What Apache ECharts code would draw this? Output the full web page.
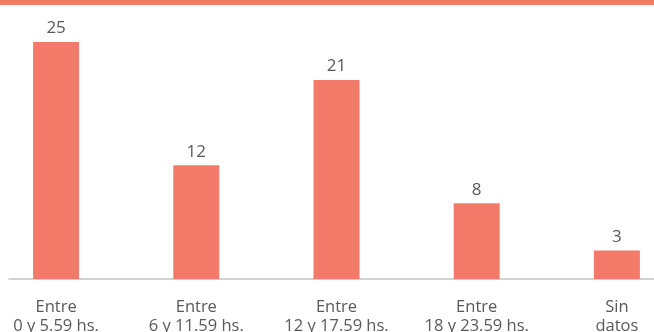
<!DOCTYPE html>
<html>
<head>
<meta charset="utf-8">
<script src="https://cdn.jsdelivr.net/npm/echarts@6/dist/echarts.min.js"></script>
<style>
  html, body { margin: 0; padding: 0; background: #fff; }
  #chart { width: 654px; height: 332px; }
</style>
</head>
<body>
<div id="chart"></div>
<script>
const categories = [
  'Entre\n0 y 5.59 hs.',
  'Entre\n6 y 11.59 hs.',
  'Entre\n12 y 17.59 hs.',
  'Entre\n18 y 23.59 hs.',
  'Sin\ndatos'
];
const values = [25, 12, 21, 8, 3];

const barColor = '#F37A69';
const textColor = '#595959';
const fontFamily = '"Open Sans", "DejaVu Sans", sans-serif';

const chart = echarts.init(document.getElementById('chart'));

chart.setOption({
  animation: false,
  graphic: [
    {
      type: 'rect',
      left: 0,
      top: 0,
      shape: { width: 654, height: 5 },
      style: { fill: barColor }
    }
  ],
  grid: [
    { left: -14, right: -33, top: 42, bottom: 53, outerBoundsMode: 'none' },
    { left: 9, right: 0, top: 42, bottom: 53, outerBoundsMode: 'none' }
  ],
  xAxis: [
    {
      type: 'category',
      gridIndex: 0,
      data: categories,
      axisLine: { show: false },
      axisTick: { show: false },
      axisLabel: {
        interval: 0,
        margin: 19,
        color: textColor,
        fontFamily: fontFamily,
        fontSize: 16.5,
        lineHeight: 19
      }
    },
    {
      type: 'category',
      gridIndex: 1,
      data: [''],
      axisLine: { show: true, lineStyle: { color: '#C4C4C4', width: 1.5 } },
      axisTick: { show: false },
      axisLabel: { show: false }
    }
  ],
  yAxis: [
    { type: 'value', gridIndex: 0, min: 0, max: 25, show: false },
    { type: 'value', gridIndex: 1, min: 0, max: 25, show: false }
  ],
  series: [
    {
      type: 'bar',
      xAxisIndex: 0,
      yAxisIndex: 0,
      data: values,
      barWidth: 46,
      itemStyle: { color: barColor },
      label: {
        show: true,
        position: 'top',
        distance: 5,
        color: textColor,
        fontFamily: fontFamily,
        fontSize: 17
      }
    }
  ]
});
</script>
</body>
</html>
